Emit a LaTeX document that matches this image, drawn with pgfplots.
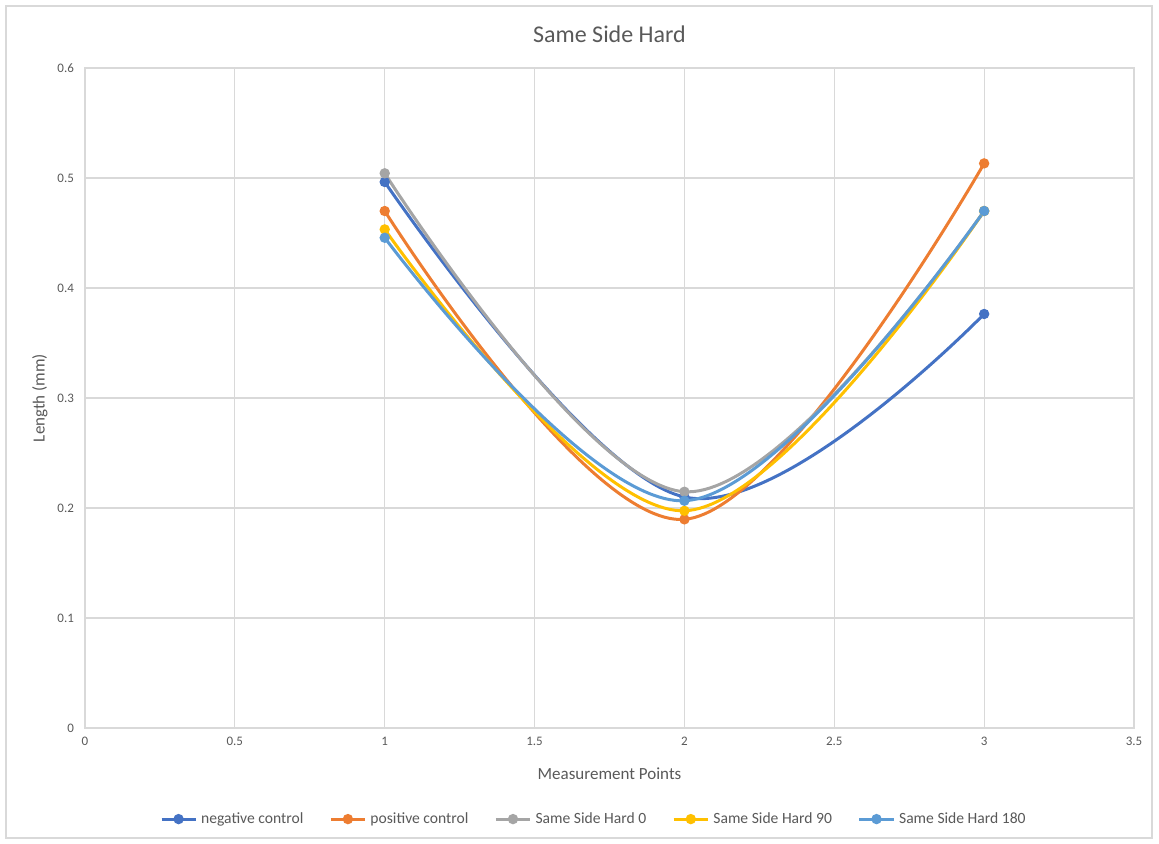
\documentclass[border=0pt]{standalone}
\usepackage{pgfplots}
\pgfplotsset{compat=1.18}
\usepackage{fontspec}
\setmainfont{Carlito}
\definecolor{cA}{HTML}{4472C4}
\definecolor{cB}{HTML}{ED7D31}
\definecolor{cC}{HTML}{A5A5A5}
\definecolor{cD}{HTML}{FFC000}
\definecolor{cE}{HTML}{5B9BD5}
\definecolor{txt}{HTML}{595959}
\definecolor{grd}{HTML}{D9D9D9}
\begin{document}
\begin{tikzpicture}
\useasboundingbox (-42.5pt,-57.5pt) rectangle (537pt,364pt);
\draw[grd, line width=0.8pt] (-39.5pt,-55pt) rectangle (533.5pt,361pt);
\begin{axis}[
  at={(0,0)}, anchor=south west,
  scale only axis, width=524.5pt, height=330pt,
  xmin=0, xmax=3.5, ymin=0, ymax=0.6,
  xtick={0,0.5,...,3.5}, ytick={0,0.1,...,0.6},
  xticklabels={0,0.5,1,1.5,2,2.5,3,3.5},
  yticklabels={0,0.1,0.2,0.3,0.4,0.5,0.6},
  grid=major, major grid style={grd, line width=0.6pt},
  axis line style={grd, line width=0.6pt},
  major tick length=0pt,
  tick label style={font=\fontsize{6.5}{7}\selectfont, text=txt},
  /pgf/number format/assume math mode=true,
  title={Same Side Hard},
  title style={at={(axis description cs:0.5,1.033)}, anchor=center, yshift=0pt, font=\fontsize{12}{14}\selectfont, text=txt},
  xlabel={Measurement Points},
  xlabel style={at={(axis description cs:0.5,-0.0697)}, anchor=center, font=\fontsize{8.5}{10}\selectfont, text=txt},
  ylabel={Length (mm)},
  ylabel style={at={(axis description cs:-0.043,0.5)}, anchor=center, font=\fontsize{8.5}{10}\selectfont, text=txt},
  yticklabel style={xshift=-2pt},
  xticklabel style={yshift=-1pt},
  legend style={at={(axis description cs:0.486,-0.138)}, anchor=center, draw=none,
    font=\fontsize{7.8}{9}\selectfont, text=txt, legend columns=-1,
    /tikz/every even column/.append style={column sep=11pt}},
  legend cell align=left,
  legend image post style={line width=1.5pt},
  every axis plot/.append style={line width=1.5pt, mark=*, mark size=1.8pt, smooth, tension=0.6},
]
\addplot[cA, mark options={fill=cA}] coordinates {(1,0.4964) (2,0.210) (3,0.3764)};
\addlegendentry{negative control}
\addplot[cB, mark options={fill=cB}] coordinates {(1,0.4700) (2,0.1897) (3,0.5133)};
\addlegendentry{positive control}
\addplot[cC, mark options={fill=cC}] coordinates {(1,0.5043) (2,0.2148) (3,0.4700)};
\addlegendentry{Same Side Hard 0}
\addplot[cD, mark options={fill=cD}] coordinates {(1,0.4533) (2,0.1975) (3,0.4700)};
\addlegendentry{Same Side Hard 90}
\addplot[cE, mark options={fill=cE}] coordinates {(1,0.4457) (2,0.2066) (3,0.4700)};
\addlegendentry{Same Side Hard 180}
\end{axis}
\end{tikzpicture}
\end{document}
